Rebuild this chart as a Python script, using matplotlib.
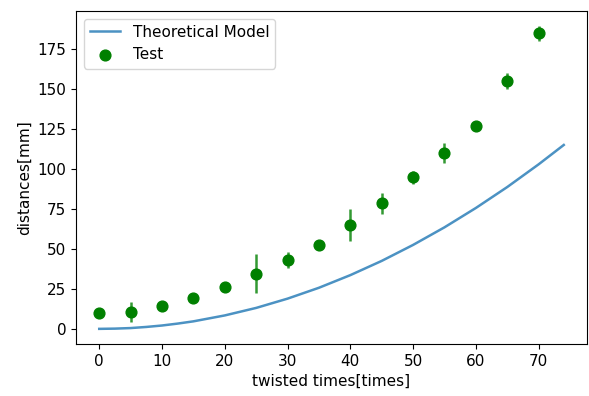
import matplotlib
matplotlib.use("Agg")
import matplotlib.pyplot as plt

# Measured test points
test_x = [0, 5, 10, 15, 20, 25, 30, 35, 40, 45, 50, 55, 60, 65, 70]
test_y = [10, 10.6, 14.6, 19.2, 26, 34.6, 43.1, 52.5, 65.2, 78.5, 94.8, 110, 127, 155, 184.8]
test_err = [0.8, 6, 2, 0.8, 0.8, 12, 5, 0.8, 10, 6.5, 4, 6, 1.5, 5, 4.5]

# Theoretical model curve
model_x = [0, 2.5, 5, 7.5, 10, 12.5, 15, 20, 25, 30, 35, 40, 45, 50, 55, 60, 65, 70, 74]
model_y = [0, 0.15, 0.5, 1.2, 2.1, 3.3, 4.7, 8.4, 13.1, 18.9, 25.7, 33.6, 42.5, 52.5, 63.5, 75.6, 88.7, 102.9, 115]

plt.rcParams['font.size'] = 11

fig = plt.figure(figsize=(5.89, 3.96), dpi=100)
ax = fig.add_axes([76/589, (396-344)/396, 511/589, 333/396])

ax.plot(model_x, model_y, color='#1f77b4', alpha=0.8, lw=1.8, label='Theoretical Model')
ax.scatter(test_x, test_y, s=60, color='green', label='Test', zorder=3)
ax.errorbar(test_x, test_y, yerr=test_err, fmt='none', ecolor='green', alpha=0.8, lw=1.8)

ax.set_xlabel('twisted times[times]')
ax.set_ylabel('distances[mm]')
ax.set_yticks([0, 25, 50, 75, 100, 125, 150, 175])
ax.set_xticks([0, 10, 20, 30, 40, 50, 60, 70])
ax.legend(loc='upper left')

fig.savefig('out.png', dpi=100)
